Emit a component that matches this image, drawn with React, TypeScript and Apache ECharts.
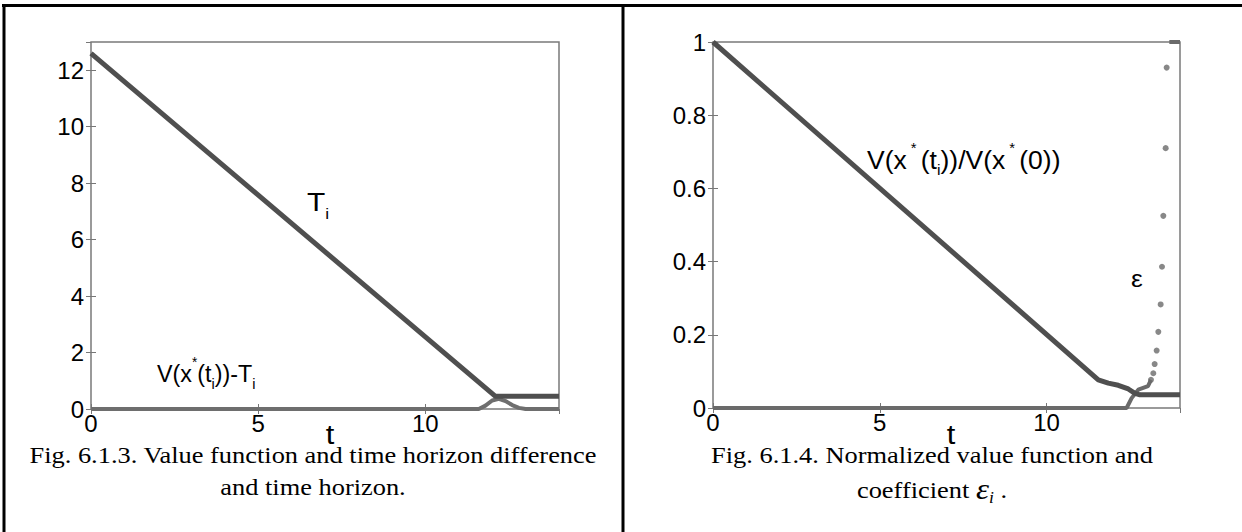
import React, { useEffect, useRef } from "react";
import * as echarts from "echarts";

// ---------- data ----------
// Fig. 6.1.3 : time horizon T_i and V(x*(t_i)) - T_i
const leftT: number[][] = [[0, 12.6], [12.1, 0.45], [14, 0.45]];
const leftVT: number[][] = [
  [0, 0], [11.6, 0], [11.8, 0.12], [12.0, 0.3], [12.2, 0.36], [12.4, 0.28],
  [12.6, 0.14], [12.8, 0.04], [13.0, 0], [14, 0],
];
// Fig. 6.1.4 : normalized value function and coefficient epsilon_i
const rightV: number[][] = [
  [0, 1], [11.55, 0.077], [11.85, 0.068], [12.15, 0.062], [12.45, 0.052],
  [12.65, 0.04], [12.8, 0.036], [14, 0.036],
];
const rightEpsLine: number[][] = [
  [0, 0], [12.4, 0], [12.55, 0.027], [12.75, 0.05], [13.04, 0.06], [13.13, 0.077],
];
const rightEpsDots: number[][] = [
  [13.13, 0.077], [13.2, 0.095], [13.24, 0.12], [13.3, 0.157], [13.35, 0.208],
  [13.42, 0.283], [13.46, 0.386], [13.5, 0.525], [13.57, 0.71], [13.6, 0.93],
];
const rightEpsTop: number[][] = [[13.68, 1], [14, 1]];

const leftYTicks = { min: 0, max: 13, interval: 2 };
const rightYTicks = { min: 0, max: 1, interval: 0.2 };
const xTicks = { min: 0, max: 14, interval: 5 };

const captionLeft = ["Fig. 6.1.3. Value function and time horizon difference", "and time horizon."];
const captionRight = ["Fig. 6.1.4. Normalized value function and", "coefficient"];

// ---------- helpers ----------
const SANS = "Liberation Sans";
const SERIF = "Liberation Serif";

let _ctx: CanvasRenderingContext2D | null = null;
function measure(text: string, font: string): number {
  if (!_ctx) _ctx = document.createElement("canvas").getContext("2d");
  if (!_ctx) return text.length * 10;
  _ctx.font = font;
  return _ctx.measureText(text).width;
}

type Part = { text: string; size: number; dy?: number; family?: string; style?: string };

function composite(parts: Part[], x: number, y: number, align: "left" | "center", sx: number) {
  let off = 0;
  const children: any[] = [];
  parts.forEach((p) => {
    const family = p.family || SANS;
    const style = p.style || "normal";
    const font = `${style} ${p.size}px "${family}"`;
    children.push({
      type: "text",
      x: off,
      y: p.dy || 0,
      style: {
        text: p.text,
        fontSize: p.size,
        fontFamily: family,
        fontStyle: style,
        fill: "#000",
        align: "left",
        verticalAlign: "middle",
      },
    });
    off += measure(p.text, font);
  });
  const startX = align === "center" ? x - (off * sx) / 2 : x;
  return { type: "group", x: startX, y, scaleX: sx, children };
}

function simpleText(text: string, x: number, y: number, size: number, family: string, sx: number) {
  return {
    type: "text",
    x,
    y,
    scaleX: sx,
    style: { text, fontSize: size, fontFamily: family, fill: "#000", align: "center", verticalAlign: "middle" },
  };
}

const tickStyle = { show: true, inside: true, length: 5, lineStyle: { color: "#777", width: 1 } };
const labelStyle = { color: "#000", fontFamily: SANS, fontSize: 24 };

function xAxes(gridIndex: number) {
  return [
    {
      type: "value", gridIndex, position: "bottom", ...xTicks,
      axisLine: { show: false }, splitLine: { show: false }, axisTick: tickStyle,
      axisLabel: { ...labelStyle, margin: 2, showMaxLabel: false },
    },
    {
      type: "value", gridIndex, position: "top", ...xTicks,
      axisLine: { show: false }, splitLine: { show: false }, axisTick: tickStyle,
      axisLabel: { show: false },
    },
  ];
}
function yAxes(gridIndex: number, ticks: any, hideMax: boolean) {
  return [
    {
      type: "value", gridIndex, position: "left", ...ticks,
      axisLine: { show: false }, splitLine: { show: false }, axisTick: tickStyle,
      axisLabel: { ...labelStyle, margin: 7, showMaxLabel: !hideMax },
    },
    {
      type: "value", gridIndex, position: "right", ...ticks,
      axisLine: { show: false }, splitLine: { show: false }, axisTick: tickStyle,
      axisLabel: { show: false },
    },
  ];
}

export default function App() {
  const ref = useRef<HTMLDivElement>(null);
  useEffect(() => {
    if (!ref.current) return;
    const chart = echarts.init(ref.current, undefined, { renderer: "svg" });
    const gridBase = { show: true, borderColor: "#7a7a7a", borderWidth: 1.5, backgroundColor: "transparent" };
    const lineBase = { type: "line", showSymbol: false, clip: false, smooth: false };
    const CS = 1.1;
    const option: any = {
      animation: false,
      backgroundColor: "#fff",
      grid: [
        { ...gridBase, left: 91, top: 42, width: 468, height: 367 },
        { ...gridBase, left: 713, top: 42, width: 467, height: 366 },
      ],
      xAxis: [...xAxes(0), ...xAxes(1)],
      yAxis: [...yAxes(0, leftYTicks, true), ...yAxes(1, rightYTicks, false)],
      series: [
        { ...lineBase, xAxisIndex: 0, yAxisIndex: 0, data: leftVT, lineStyle: { color: "#6e6e6e", width: 4 }, z: 2 },
        { ...lineBase, xAxisIndex: 0, yAxisIndex: 0, data: leftT, lineStyle: { color: "#4f4f4f", width: 5 }, z: 3 },
        { ...lineBase, xAxisIndex: 2, yAxisIndex: 2, data: rightEpsLine, lineStyle: { color: "#6a6a6a", width: 4 }, z: 2 },
        { ...lineBase, xAxisIndex: 2, yAxisIndex: 2, data: rightV, lineStyle: { color: "#4f4f4f", width: 5 }, z: 3 },
        { ...lineBase, xAxisIndex: 2, yAxisIndex: 2, data: rightEpsTop, lineStyle: { color: "#6a6a6a", width: 4 }, z: 2 },
        {
          type: "scatter", xAxisIndex: 2, yAxisIndex: 2, data: rightEpsDots, symbolSize: 6,
          itemStyle: { color: "#6a6a6a" }, clip: false, z: 4,
        },
      ],
      graphic: [
        // table borders
        { type: "line", shape: { x1: 2, y1: 5.5, x2: 1242, y2: 5.5 }, style: { stroke: "#000", lineWidth: 3 } },
        { type: "line", shape: { x1: 4, y1: 4, x2: 4, y2: 532 }, style: { stroke: "#000", lineWidth: 3 } },
        { type: "line", shape: { x1: 623, y1: 4, x2: 623, y2: 532 }, style: { stroke: "#000", lineWidth: 3 } },
        // axis titles
        simpleText("t", 330, 434, 28, SANS, 1.1),
        simpleText("t", 951, 434, 28, SANS, 1.1),
        // in-plot labels, left
        composite([{ text: "T", size: 26 }, { text: "i", size: 15, dy: 11 }], 307, 202, "left", 1.15),
        composite(
          [
            { text: "V(x", size: 24 },
            { text: "*", size: 14, dy: -12 },
            { text: "(t", size: 24 },
            { text: "i", size: 15, dy: 10 },
            { text: "))-T", size: 24 },
            { text: "i", size: 15, dy: 10 },
          ],
          157, 374, "left", 0.97
        ),
        // in-plot labels, right
        composite(
          [
            { text: "V(x", size: 25 },
            { text: " * ", size: 14, dy: -12 },
            { text: "(t", size: 25 },
            { text: "i", size: 15, dy: 10 },
            { text: "))/V(x", size: 25 },
            { text: " * ", size: 14, dy: -12 },
            { text: "(0))", size: 25 },
          ],
          867, 160, "left", 1.06
        ),
        simpleText("ε", 1137, 278, 24, SANS, 1.1),
        // captions
        simpleText(captionLeft[0], 313, 455, 24, SERIF, CS),
        simpleText(captionLeft[1], 313, 487, 24, SERIF, CS),
        simpleText(captionRight[0], 932, 455, 24, SERIF, CS),
        composite(
          [
            { text: captionRight[1] + " ", size: 24, family: SERIF },
            { text: "ε", size: 30, family: SERIF, style: "italic", dy: -1 },
            { text: "i", size: 16, family: SERIF, style: "italic", dy: 8 },
            { text: " .", size: 24, family: SERIF },
          ],
          932, 490, "center", CS
        ),
      ],
    };
    chart.setOption(option);
    return () => chart.dispose();
  }, []);
  return (
    <div
      ref={ref}
      style={{ position: "fixed", left: 0, top: 0, width: 1242, height: 532, background: "#fff" }}
    />
  );
}
